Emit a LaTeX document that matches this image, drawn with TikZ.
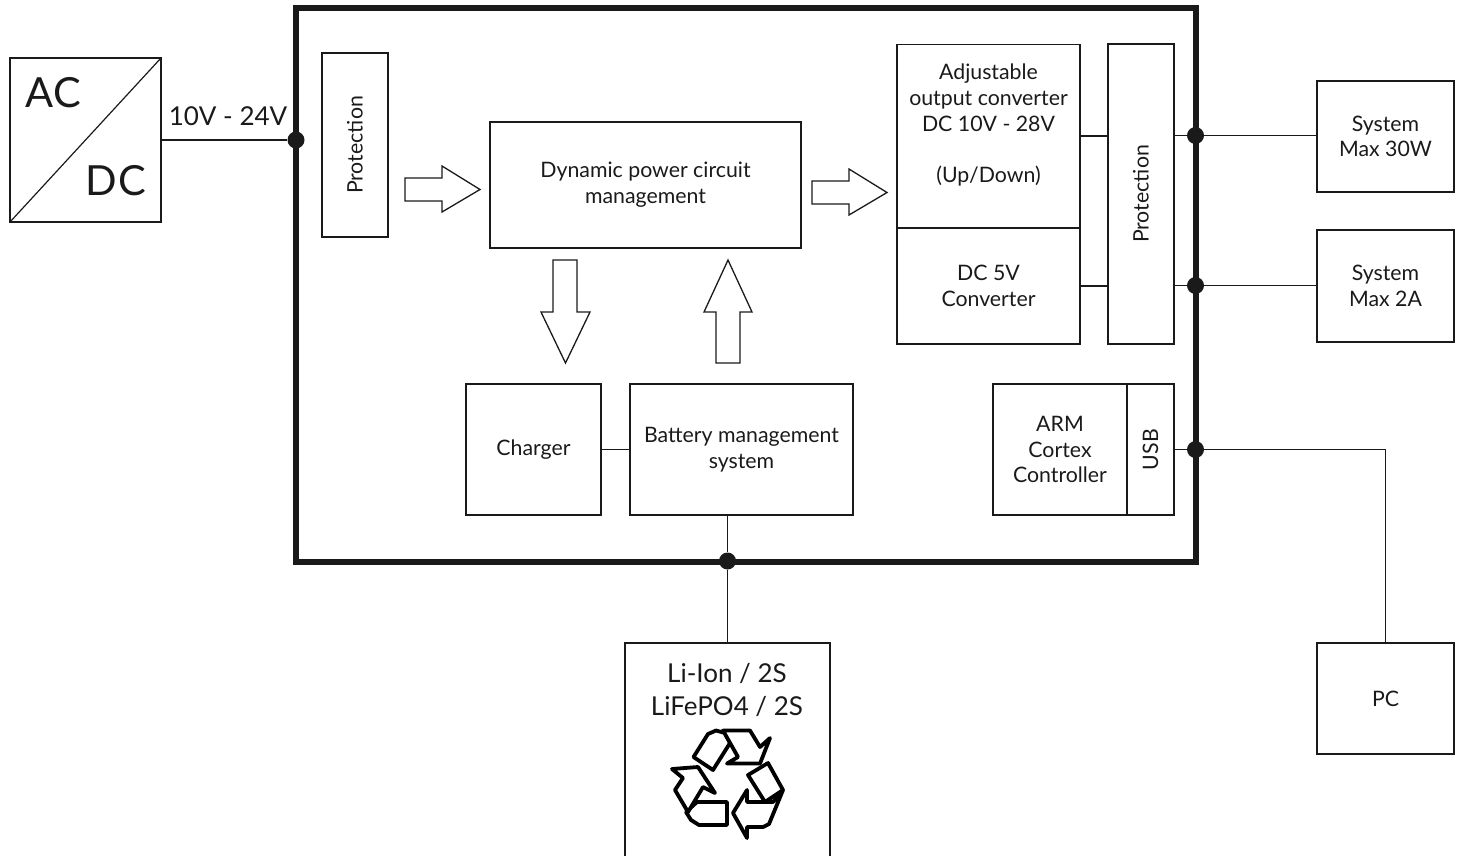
\documentclass[tikz,border=0pt]{standalone}
\usepackage{fontspec}
\setmainfont{Lato}
\usepackage{xcolor}
\definecolor{inkline}{HTML}{1A1A1A}

\tikzset{
  blockbox/.style={draw=inkline, line width=1.3pt, align=center, inner sep=0pt, outer sep=0pt, text=inkline, font=\fontsize{21.3}{25.7}\selectfont},
  plaintext/.style={inner sep=0pt, text=inkline, align=center},
  junction/.style={circle, fill=inkline, inner sep=0pt, minimum size=17pt},
  wire/.style={draw=inkline, line width=1.2pt},
  hollowarrow/.style={draw=inkline, line width=1.3pt, miter limit=8},
  recycleline/.style={draw=black, line width=3.8pt, line join=round, fill=white}
}

\begin{document}
\begin{tikzpicture}[x=1pt, y=-1pt]
\useasboundingbox (0,0) rectangle (1463,855);

\node (mainframe) [draw=inkline, line width=6pt, inner sep=0pt, outer sep=0pt, minimum width=900pt, minimum height=554pt] at (746,285) {};

\node (acdc) [blockbox, minimum width=151pt, minimum height=164pt] at (85.5,140) {};
\node (aclabel) [plaintext, font=\fontsize{41.5}{50}\selectfont] at (53.5,93) {AC};
\node (dclabel) [plaintext, font=\fontsize{41.5}{50}\selectfont] at (116,181) {D\kern2pt C};
\node (voltlabel) [plaintext, font=\fontsize{26}{30}\selectfont] at (228,116) {10V - 24V};

\node (protleft) [blockbox, rotate=90, minimum width=184pt, minimum height=66pt] at (355,145) {Protection};
\node (dynamic) [blockbox, minimum width=311pt, minimum height=126pt] at (645.5,185) {Dynamic power circuit\\management};
\node (adjust) [blockbox, minimum width=183pt, minimum height=183pt] at (988.5,136) {Adjustable\\output converter\\DC 10V - 28V\\~\\(Up/Down)\\~};
\node (fivevolt) [blockbox, minimum width=183pt, minimum height=116pt] at (988.5,286) {DC 5V\\Converter};
\node (protright) [blockbox, rotate=90, minimum width=300pt, minimum height=66pt] at (1141,194) {Protection};
\node (charger) [blockbox, minimum width=135pt, minimum height=131pt] at (533.5,449.5) {Charger};
\node (bms) [blockbox, minimum width=223pt, minimum height=131pt] at (741.5,449.5) {Battery management\\system};
\node (arm) [blockbox, minimum width=134pt, minimum height=131pt] at (1060,449.5) {ARM\\Cortex\\Controller};
\node (usb) [blockbox, rotate=90, minimum width=131pt, minimum height=47pt] at (1150.5,449.5) {USB};

\node (systhirty) [blockbox, minimum width=137pt, minimum height=111pt] at (1385.5,136.5) {System\\Max 30W};
\node (systwo) [blockbox, minimum width=137pt, minimum height=112pt] at (1385.5,286) {System\\Max 2A};
\node (pc) [blockbox, minimum width=137pt, minimum height=111pt] at (1385.5,698.5) {PC};
\node (battery) [blockbox, minimum width=205pt, minimum height=227pt] at (727.5,756.5) {};
\node (batterylabel) [plaintext, font=\fontsize{26}{33}\selectfont] at (727,690) {Li-Ion / 2S\\LiFePO4 / 2S};

\node (dotac) [junction] at (296,140) {};
\node (dotsys) [junction] at (1195.5,135.5) {};
\node (dotfive) [junction] at (1195.5,285.5) {};
\node (dotusb) [junction] at (1195.5,449.5) {};
\node (dotbatt) [junction] at (727.5,561) {};
\coordinate (pcbend) at (1385.5,449.5);

\draw[wire] (acdc.east) -- (dotac);
\draw[wire] (adjust.east) -- (adjust.east -| protright.north);
\draw[wire] (fivevolt.east) -- (fivevolt.east -| protright.north);
\draw[wire] (dotsys -| protright.south) -- (dotsys) -- (dotsys -| systhirty.west);
\draw[wire] (dotfive -| protright.south) -- (dotfive) -- (dotfive -| systwo.west);
\draw[wire] (usb.south) -- (dotusb) -- (pcbend) -- (pc.north -| pcbend);
\draw[wire] (charger.east) -- (bms.west);
\draw[wire] (dotbatt |- bms.south) -- (dotbatt) -- (dotbatt |- battery.north);
\draw[line width=1.2pt, draw=inkline] (acdc.south west) -- (acdc.north east);

% hollow arrows
\draw[hollowarrow] (405,178) -- (442,178) -- (442,166) -- (480,189.5) -- (442,212) -- (442,201) -- (405,201) -- cycle;
\draw[hollowarrow] (812,181) -- (849,181) -- (849,169) -- (887,192.5) -- (849,215) -- (849,204) -- (812,204) -- cycle;
\draw[hollowarrow] (553,260) -- (577,260) -- (577,312) -- (590,312) -- (565.5,363) -- (541,312) -- (553,312) -- cycle;
\draw[hollowarrow] (716,363) -- (740,363) -- (740,312) -- (752,312) -- (728,260) -- (704,312) -- (716,312) -- cycle;

% recycling sign
\draw[recycleline] (725,733) -- (716,730.5) -- (708,734) -- (693.5,757) -- (713,770) -- (730,743) -- cycle;
\draw[recycleline] (723,730.5) -- (750,730.5) -- (760,747) -- (770,738) -- (760,763.5) -- (727,763.5) -- (738,757) -- cycle;
\draw[recycleline] (783,790) -- (768,763) -- (748,775) -- (765,802) -- cycle;
\draw[recycleline] (783,790) -- (773,802) -- (747,802) -- (747,790) -- (733,813) -- (747,838) -- (747,827) -- (763,827) -- (769,824) -- cycle;
\draw[recycleline] (697,802) -- (727,802) -- (727,825) -- (699,825) -- (691,820) -- (686,812) -- cycle;
\draw[recycleline] (672,769) -- (698,767) -- (715,793) -- (703,787) -- (688,812) -- (675,790) -- (683,778) -- cycle;
\end{tikzpicture}
\end{document}
